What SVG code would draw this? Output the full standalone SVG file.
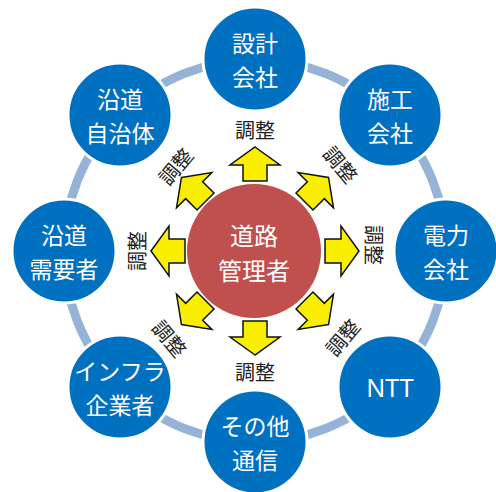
<svg xmlns="http://www.w3.org/2000/svg" xmlns:xlink="http://www.w3.org/1999/xlink" width="496" height="492" viewBox="0 0 496 492">
  <defs>
    <style>
      .node { fill: #0070C0; stroke: #FFFFFF; stroke-width: 3; }
      .hub { fill: #C0504D; }
      .nt { font-family: "Noto Sans CJK JP", "Noto Sans", sans-serif; font-size: 23px; fill: #FFFFFF; text-anchor: middle; dominant-baseline: central; }
      .ht { font-family: "Noto Sans CJK JP", "Noto Sans", sans-serif; font-size: 24px; fill: #FFFFFF; text-anchor: middle; dominant-baseline: central; }
      .lbl { font-family: "Noto Sans CJK JP", "Noto Sans", sans-serif; font-size: 20px; fill: #222222; text-anchor: middle; dominant-baseline: central; }
      .ring { fill: none; stroke: #95B3D7; stroke-width: 9; }
      .arr { fill: #FAEE00; stroke: #111111; stroke-width: 1.5; stroke-linejoin: miter; }
    </style>
    <path id="arrow" class="arr" d="M0,-104 L25,-86 L12,-86 L12,-70 L-12,-70 L-12,-86 L-25,-86 Z"/>
  </defs>
  <rect width="496" height="492" fill="#FFFFFF"/>

  <g id="connectors">
    <circle class="ring" cx="255" cy="251" r="191"/>
    <use xlink:href="#arrow" href="#arrow" transform="translate(255,251) rotate(0)"/>
    <use xlink:href="#arrow" href="#arrow" transform="translate(255,251) rotate(45)"/>
    <use xlink:href="#arrow" href="#arrow" transform="translate(255,251) rotate(90)"/>
    <use xlink:href="#arrow" href="#arrow" transform="translate(255,251) rotate(135)"/>
    <use xlink:href="#arrow" href="#arrow" transform="translate(255,251) rotate(180)"/>
    <use xlink:href="#arrow" href="#arrow" transform="translate(255,251) rotate(225)"/>
    <use xlink:href="#arrow" href="#arrow" transform="translate(255,251) rotate(270)"/>
    <use xlink:href="#arrow" href="#arrow" transform="translate(255,251) rotate(315)"/>
  </g>

  <g id="labels">
    <text class="lbl" transform="translate(255,129)">調整</text>
    <text class="lbl" transform="translate(341,164) rotate(50)">調整</text>
    <text class="lbl" transform="translate(374,245) rotate(90)">調整</text>
    <text class="lbl" transform="translate(342,337) rotate(-50)">調整</text>
    <text class="lbl" transform="translate(255,371)">調整</text>
    <text class="lbl" transform="translate(170,338) rotate(50)">調整</text>
    <text class="lbl" transform="translate(136,251) rotate(-90)">調整</text>
    <text class="lbl" transform="translate(175,166) rotate(-50)">調整</text>
  </g>

  <g id="node-sekkei">
    <circle class="node" cx="255" cy="59" r="52"/>
    <text class="nt" x="255" y="42">設計</text>
    <text class="nt" x="255" y="76">会社</text>
  </g>
  <g id="node-sekou">
    <circle class="node" cx="390" cy="115" r="52"/>
    <text class="nt" x="390" y="98">施工</text>
    <text class="nt" x="390" y="132">会社</text>
  </g>
  <g id="node-denryoku">
    <circle class="node" cx="446" cy="251" r="52"/>
    <text class="nt" x="446" y="234">電力</text>
    <text class="nt" x="446" y="268">会社</text>
  </g>
  <g id="node-ntt">
    <circle class="node" cx="390" cy="387" r="52"/>
    <text class="nt" x="390" y="387" style="font-family:'Noto Sans', sans-serif; font-size:25px">NTT</text>
  </g>
  <g id="node-sonota">
    <circle class="node" cx="255" cy="442" r="52"/>
    <text class="nt" x="255" y="425">その他</text>
    <text class="nt" x="255" y="459">通信</text>
  </g>
  <g id="node-infra">
    <circle class="node" cx="120" cy="387" r="52"/>
    <text class="nt" x="120" y="370">インフラ</text>
    <text class="nt" x="120" y="404">企業者</text>
  </g>
  <g id="node-jukyu">
    <circle class="node" cx="64" cy="251" r="52"/>
    <text class="nt" x="64" y="234">沿道</text>
    <text class="nt" x="64" y="268">需要者</text>
  </g>
  <g id="node-jichitai">
    <circle class="node" cx="120" cy="115" r="52"/>
    <text class="nt" x="120" y="98">沿道</text>
    <text class="nt" x="120" y="132">自治体</text>
  </g>
  <g id="node-hub">
    <circle class="hub" cx="254" cy="251" r="67"/>
    <text class="ht" x="254" y="234">道路</text>
    <text class="ht" x="254" y="269">管理者</text>
  </g>
</svg>
